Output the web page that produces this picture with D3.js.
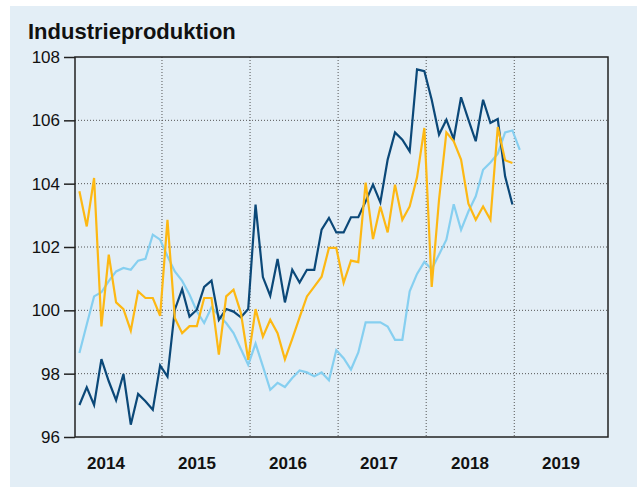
<!DOCTYPE html>
<html>
<head>
<meta charset="utf-8">
<script src="https://cdn.jsdelivr.net/npm/d3@7"></script>
<style>
  html, body { margin: 0; padding: 0; background: #ffffff; }
  #chart { width: 644px; height: 489px; }
  text { font-family: "Liberation Sans", Arial, sans-serif; }
</style>
</head>
<body>
<div id="chart"></div>
<script>
// Monthly values, Jan 2014 onwards (index = months since Jan 2014)
const darkBlue = [
  97.01, 97.57, 97.01, 98.46, 97.76, 97.16, 97.99, 96.39, 97.36, 97.13, 96.86, 98.26,
  97.91, 100.02, 100.67, 99.8, 100.02, 100.74, 100.94, 99.7, 100.04, 99.96, 99.78, 100.04,
  103.34, 101.05, 100.46, 101.62, 100.25, 101.28, 100.88, 101.28, 101.28, 102.55, 102.92, 102.46,
  102.46, 102.94, 102.94, 103.44, 103.97, 103.41, 104.76, 105.62, 105.39, 105.02, 107.61, 107.55,
  106.65, 105.55, 106.02, 105.41, 106.73, 106.02, 105.34, 106.65, 105.92, 106.04, 104.23, 103.34
];
const yellow = [
  103.76, 102.65, 104.18, 99.49, 101.76, 100.25, 100.04, 99.36, 100.6, 100.39, 100.39, 99.83,
  102.86, 99.76, 99.28, 99.5, 99.5, 100.39, 100.39, 98.6, 100.44, 100.65, 99.92, 98.44,
  100.04, 99.17, 99.7, 99.28, 98.45, 99.1, 99.78, 100.44, 100.75, 101.06, 101.97, 101.97,
  100.87, 101.57, 101.52, 104.03, 102.25, 103.28, 102.46, 103.97, 102.86, 103.28, 104.2, 105.76,
  100.74, 103.5, 105.62, 105.34, 104.76, 103.37, 102.86, 103.28, 102.86, 105.79, 104.74, 104.65
];
const lightBlue = [
  98.65, 99.55, 100.44, 100.57, 100.92, 101.23, 101.34, 101.28, 101.57, 101.63, 102.39, 102.23,
  101.71, 101.23, 100.93, 100.5, 99.97, 99.6, 100.1, 99.84, 99.6, 99.28, 98.78, 98.28,
  98.95, 98.23, 97.49, 97.71, 97.58, 97.86, 98.1, 98.04, 97.92, 98.04, 97.79, 98.74,
  98.49, 98.13, 98.67, 99.62, 99.62, 99.62, 99.49, 99.07, 99.07, 100.6, 101.15, 101.53,
  101.3, 101.76, 102.23, 103.35, 102.54, 103.12, 103.6, 104.44, 104.67, 104.95, 105.62, 105.68,
  105.07
];
const years = ["2014", "2015", "2016", "2017", "2018", "2019"];
const yTicks = [96, 98, 100, 102, 104, 106, 108];
const yearStarts = [12, 24, 36, 48, 60]; // months since Jan 2014

const W = 644, H = 489;
const margin = { top: 57, right: 36, bottom: 52, left: 75 };
const width = W - margin.left - margin.right;
const height = H - margin.top - margin.bottom;

const svg = d3.select("#chart").append("svg")
  .attr("width", W)
  .attr("height", H)
  .attr("viewBox", [0, 0, W, H]);

// panel background
svg.append("rect")
  .attr("x", 10).attr("y", 6)
  .attr("width", 627).attr("height", 481)
  .attr("fill", "#e3eef6");

svg.append("text")
  .attr("x", 28)
  .attr("y", 39)
  .attr("fill", "#111")
  .style("font-size", "22px")
  .style("font-weight", "bold")
  .text("Industrieproduktion");

const g = svg.append("g")
  .attr("transform", `translate(${margin.left},${margin.top})`);

const x = d3.scaleLinear().domain([0.15, 72.77]).range([0, width]);
const y = d3.scaleLinear().domain([96, 108]).range([height, 0]);
const xLabel = d3.scaleBand().domain(years).range([-14.5, 531.5]);

// horizontal grid
g.append("g")
  .selectAll("line")
  .data(yTicks.slice(1, -1))
  .join("line")
  .attr("x1", 0).attr("x2", width)
  .attr("y1", (d) => y(d)).attr("y2", (d) => y(d))
  .attr("stroke", "#555")
  .attr("stroke-width", 1)
  .attr("stroke-dasharray", "1,2");

// vertical year grid
g.append("g")
  .selectAll("line")
  .data(yearStarts)
  .join("line")
  .attr("x1", (d) => x(d)).attr("x2", (d) => x(d))
  .attr("y1", 0).attr("y2", height)
  .attr("stroke", "#555")
  .attr("stroke-width", 1)
  .attr("stroke-dasharray", "1,2");

// Y axis
g.append("g")
  .call(d3.axisLeft(y).tickValues(yTicks).tickSize(11).tickPadding(4).tickFormat(d3.format("d")))
  .call((a) => a.select(".domain").remove())
  .call((a) => a.selectAll(".tick line").attr("stroke", "#222").attr("stroke-width", 1.5))
  .selectAll("text")
  .attr("fill", "#111")
  .style("font-size", "17px");

// X labels
g.append("g")
  .attr("transform", `translate(0,${height})`)
  .call(d3.axisBottom(xLabel).tickSize(0).tickPadding(20))
  .call((a) => a.select(".domain").remove())
  .selectAll("text")
  .attr("fill", "#111")
  .style("font-size", "17px")
  .style("font-weight", "bold");

// series
const line = d3.line()
  .x((d, i) => x(i + 0.75))
  .y((d) => y(d));

const series = [
  { values: lightBlue, color: "#86cff0" },
  { values: darkBlue, color: "#0b4878" },
  { values: yellow, color: "#fdb813" },
];

series.forEach((s) => {
  g.append("path")
    .datum(s.values)
    .attr("fill", "none")
    .attr("stroke", s.color)
    .attr("stroke-width", 2.2)
    .attr("stroke-linejoin", "miter")
    .attr("d", line);
});

// plot frame
g.append("rect")
  .attr("x", 0).attr("y", 0)
  .attr("width", width).attr("height", height)
  .attr("fill", "none")
  .attr("stroke", "#222")
  .attr("stroke-width", 1.5);
</script>
</body>
</html>
